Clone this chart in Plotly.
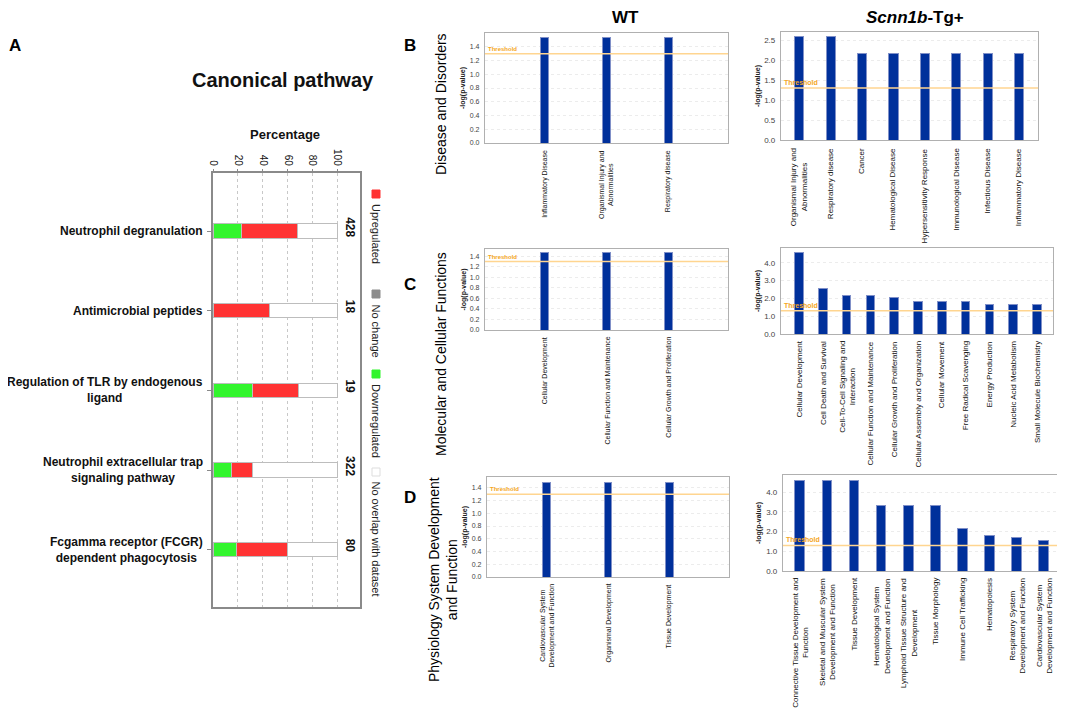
import plotly.graph_objects as go

# Page body has an 8px default margin, so the figure is drawn 8px smaller
OFF = 8
W, H = 1065 - OFF, 718 - OFF

# ---------------- Data ----------------
pathways = ["Neutrophil degranulation", "Antimicrobial peptides",
            "Regulation of TLR by endogenous<br>ligand",
            "Neutrophil extracellular trap<br>signaling pathway",
            "Fcgamma receptor (FCGR)<br>dependent phagocytosis"]
pct_down = [23, 0, 32, 14.5, 18.5]
pct_up = [45, 45, 37, 17, 41]
pathway_counts = ["428", "18", "19", "322", "80"]
pct_ticks = [0, 20, 40, 60, 80, 100]

b_wt_cats = ["Inflammatory Disease", "Organismal Injury and<br>Abnormalities", "Respiratory disease"]
b_wt_vals = [1.53, 1.53, 1.53]
b_tg_cats = ["Organismal Injury and<br>Abnormalities", "Respiratory disease", "Cancer",
             "Hematological Disease", "Hypersensitivity Response", "Immunological Disease",
             "Infectious Disease", "Inflammatory Disease"]
b_tg_vals = [2.58, 2.58, 2.17, 2.17, 2.17, 2.17, 2.17, 2.17]

c_wt_cats = ["Cellular Development", "Cellular Function and Maintenance",
             "Cellular Growth and Proliferation"]
c_wt_vals = [1.48, 1.48, 1.48]
c_tg_cats = ["Cellular Development", "Cell Death and Survival",
             "Cell-To-Cell Signaling and<br>Interaction", "Cellular Function and Maintenance",
             "Cellular Growth and Proliferation", "Cellular Assembly and Organization",
             "Cellular Movement", "Free Radical Scavenging", "Energy Production",
             "Nucleic Acid Metabolism", "Small Molecule Biochemistry"]
c_tg_vals = [4.6, 2.55, 2.15, 2.15, 2.05, 1.83, 1.83, 1.83, 1.68, 1.68, 1.68]

d_wt_cats = ["Cardiovascular System<br>Development and Function", "Organismal Development",
             "Tissue Development"]
d_wt_vals = [1.48, 1.48, 1.48]
d_tg_cats = ["Connective Tissue Development and<br>Function",
             "Skeletal and Muscular System<br>Development and Function", "Tissue Development",
             "Hematological System<br>Development and Function",
             "Lymphoid Tissue Structure and<br>Development", "Tissue Morphology",
             "Immune Cell Trafficking", "Hematopoiesis",
             "Respiratory System<br>Development and Function",
             "Cardiovascular System<br>Development and Function"]
d_tg_vals = [4.59, 4.59, 4.59, 3.32, 3.32, 3.32, 2.14, 1.83, 1.72, 1.55]

threshold = 1.3

# ---------------- Helpers (reference-image pixel -> figure fraction) ----------------
def px_x(v):
    return (v - OFF) / W

def px_y(v):
    return 1 - (v - OFF) / H

def xd(a, b):
    return [max(0, px_x(a)), min(1, px_x(b))]

def yd(top, bottom):
    return [max(0, px_y(bottom)), min(1, px_y(top))]

FONT = "Liberation Sans, Arial, sans-serif"
fig = go.Figure()
ann = []
shapes = []

def text(t, x, y, size, angle=0, color="#000", xa="center", ya="middle", align="center"):
    ann.append(dict(text=t, x=px_x(x), y=px_y(y), xref="paper", yref="paper", textangle=angle,
                    xanchor=xa, yanchor=ya, align=align, showarrow=False,
                    font=dict(size=size, color=color)))

# ---------------- Panel A ----------------
GREEN = "#33f52e"
RED = "#ff3333"
idx = list(range(len(pathways)))
rest = [100 - d - u for d, u in zip(pct_down, pct_up)]
for vals, col in [(pct_down, GREEN), (pct_up, RED), (rest, "#ffffff")]:
    fig.add_trace(go.Bar(y=idx, x=vals, orientation="h",
                         marker=dict(color=col, line=dict(color="#bdbdbd", width=1)),
                         width=0.18, xaxis="x", yaxis="y", showlegend=False, hoverinfo="skip"))

layout = dict(
    width=W, height=H, margin=dict(l=0, r=0, t=0, b=0, autoexpand=False),
    paper_bgcolor="white", plot_bgcolor="white",
    barmode="stack", showlegend=False, font=dict(family=FONT, color="#000"),
    xaxis=dict(domain=xd(213, 360), range=[0, 118], side="top", anchor="y", tickvals=pct_ticks,
               ticktext=[str(t) for t in pct_ticks], tickangle=90, tickfont=dict(size=10, color="#111"),
               showgrid=True, gridcolor="#c8c8c8", griddash="dot", gridwidth=1, zeroline=False,
               showline=True, linecolor="#8a8a8a", linewidth=1.5, mirror=True, ticks="outside", ticklen=2,
               tickcolor="#8a8a8a"),
    yaxis=dict(domain=yd(173, 607), range=[4.72, -0.73], anchor="x", tickvals=idx, showticklabels=False,
               ticks="outside", ticklen=4, tickcolor="#8a8a8a", showgrid=False, zeroline=False,
               showline=True, linecolor="#8a8a8a", linewidth=1.5, mirror=True),
)

for i, name in enumerate(pathways):
    ann.append(dict(text=f"<b>{name}</b>", x=px_x(205), xref="paper", y=i, yref="y", xanchor="right",
                    yanchor="middle", align="center", showarrow=False, font=dict(size=12, color="#111")))
    ann.append(dict(text=f"<b>{pathway_counts[i]}</b>", x=px_x(350), xref="paper", y=i - 0.05, yref="y",
                    textangle=90, xanchor="center", yanchor="middle", showarrow=False,
                    font=dict(size=12, color="#111")))

text("<b>Canonical pathway</b>", 283, 80, 20, color="#111")
text("<b>Percentage</b>", 285, 135, 13, color="#111")

legend_items = [("Upregulated", RED, 190, 202), ("No change", "#8c8c8c", 290, 302),
                ("Downregulated", GREEN, 370, 382), ("No overlap with dataset", "#ffffff", 468, 479)]
for name, col, sq, ty in legend_items:
    shapes.append(dict(type="rect", xref="paper", yref="paper", x0=px_x(372), x1=px_x(380),
                       y0=px_y(sq), y1=px_y(sq + 8), fillcolor=col,
                       line=dict(color="#dddddd" if col == "#ffffff" else col, width=1)))
    text(name, 376, ty, 11, angle=90, color="#222", ya="top")

# ---------------- IPA panels ----------------
BLUE = "#00309b"
wt_ticks = [0, .2, .4, .6, .8, 1.0, 1.2, 1.4]
panels = [
    # axis, cats, vals, x0, x1, top, bottom, ymax, xrange, yticks, bar width, tick font, label font, label top, ytitle x
    (2, b_wt_cats, b_wt_vals, 485, 728, 33, 143, 1.6, [-0.97, 2.97], wt_ticks, 0.13, 7, 7, 148, 463),
    (3, b_tg_cats, b_tg_vals, 781, 1038, 32, 140, 2.7, [-0.58, 7.6], [0, .5, 1.0, 1.5, 2.0, 2.5], 0.29, 8, 8, 146, 758),
    (4, c_wt_cats, c_wt_vals, 485, 728, 249, 330, 1.54, [-0.97, 2.97], wt_ticks, 0.13, 7, 7, 335, 463),
    (5, c_tg_cats, c_tg_vals, 781, 1053, 248, 334, 4.83, [-0.76, 10.67], [0, 1, 2, 3, 4], 0.36, 8, 8, 339, 758),
    (6, d_wt_cats, d_wt_vals, 487, 729, 477, 577, 1.57, [-0.97, 2.97], wt_ticks, 0.13, 7, 7, 582, 465),
    (7, d_tg_cats, d_tg_vals, 783, 1060, 475, 571, 4.88, [-0.62, 9.6], [0, 1, 2, 3, 4], 0.36, 8, 8, 576, 759),
]

for (k, cats, vals, x0, x1, top, bot, ymax, xr, yt, bw, tf, lf, ltop, ytx) in panels:
    xs = list(range(len(cats)))
    fig.add_trace(go.Bar(x=xs, y=vals, width=bw, xaxis=f"x{k}", yaxis=f"y{k}", showlegend=False,
                         marker=dict(color=BLUE, line=dict(color="#8090c8", width=1)), hoverinfo="skip"))
    layout[f"xaxis{k}"] = dict(domain=xd(x0, x1), range=xr, anchor=f"y{k}", showticklabels=False,
                               showgrid=False, zeroline=False, showline=True, linecolor="#b0b0b0",
                               linewidth=1.2, mirror=True, ticks="")
    layout[f"yaxis{k}"] = dict(domain=yd(top, bot), range=[0, ymax], anchor=f"x{k}", tickvals=yt,
                               tickformat=".1f", tickfont=dict(size=tf, color="#444"), showgrid=True,
                               gridcolor="#ececec", griddash="dot", zeroline=False, showline=True,
                               linecolor="#b0b0b0", linewidth=1.2, mirror=True, ticks="", ticklabelstandoff=3)
    shapes.append(dict(type="line", xref=f"x{k} domain", yref=f"y{k}", x0=0, x1=1, y0=threshold, y1=threshold,
                       line=dict(color="#ffd590", width=1.5)))
    ann.append(dict(text="<b>Threshold</b>", xref=f"x{k} domain", yref=f"y{k}", x=0.005, y=threshold,
                    xanchor="left", yanchor="bottom", showarrow=False,
                    font=dict(size=6 if tf == 7 else 7, color="#f5a623")))
    text("<b>-log(p-value)</b>", ytx, (top + bot) / 2, 7, angle=-90, color="#222")
    for i, c in enumerate(cats):
        ann.append(dict(text=c, x=i, xref=f"x{k}", y=px_y(ltop), yref="paper", textangle=-90,
                        xanchor="center", yanchor="top", align="center", showarrow=False,
                        font=dict(size=lf, color="#111")))

# ---------------- Titles and row labels ----------------
text("<b>A</b>", 15, 45, 17)
text("<b>B</b>", 410, 45, 17)
text("<b>C</b>", 410, 285, 17)
text("<b>D</b>", 410, 497, 17)
text("<b>WT</b>", 625, 18, 17)
text("<b><i>Scnn1b</i>-Tg+</b>", 915, 18, 17)
text("Disease and Disorders", 441, 104, 14, angle=-90)
text("Molecular and Cellular Functions", 441, 354, 14, angle=-90)
text("Physiology System Development<br>and Function", 443, 580, 14, angle=-90)

layout["annotations"] = ann
layout["shapes"] = shapes
fig.update_layout(**layout)
fig.write_html("out.html")
